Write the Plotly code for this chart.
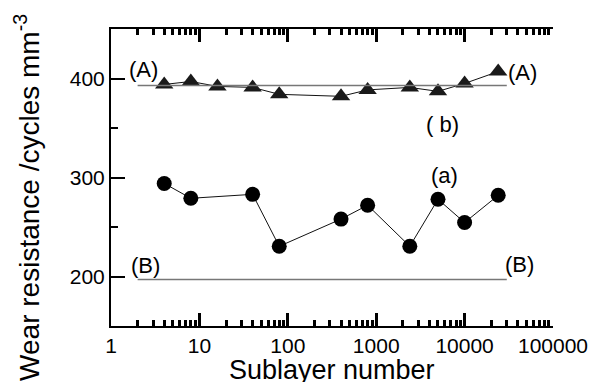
import plotly.graph_objects as go

# ---- data ----
tri_x = [4, 8, 16, 40, 80, 400, 800, 2400, 5000, 10000, 24000]
tri_y = [394, 397, 392, 391, 384, 382, 388.5, 391, 387, 395, 407]
circ_x = [4, 8, 40, 80, 400, 800, 2400, 5000, 10000, 24000]
circ_y = [294, 279, 283, 230.5, 258, 272, 230.5, 278, 254.5, 282]
ref_x = [2, 30000]
ref_A = [393, 393]
ref_B = [197, 197]
x_tickvals = [1, 10, 100, 1000, 10000, 100000]
x_ticktext = ["1", "10", "100", "1000", "10000", "100000"]
y_tickvals = [200, 300, 400]
y_ticktext = ["200", "300", "400"]

# ---- layout geometry ----
W, H = 600, 382
ML, MR, MT, MB = 111, 37, 29, 56
PW, PH = W - ML - MR, H - MT - MB
FONT = "Liberation Sans, Arial, Helvetica, sans-serif"

# minor tick positions on the log axis (2..9 in each decade)
x_minor = [m * 10 ** d for d in range(5) for m in range(2, 10)]


def px(x):
    return (x - ML) / PW


def py(y):
    return (H - MB - y) / PH


fig = go.Figure()
fig.add_trace(go.Scatter(x=ref_x, y=ref_A, mode="lines", xaxis="x2",
                         line=dict(color="#777777", width=1.5), hoverinfo="skip"))
fig.add_trace(go.Scatter(x=ref_x, y=ref_B, mode="lines", xaxis="x2",
                         line=dict(color="#777777", width=1.5), hoverinfo="skip"))
fig.add_trace(go.Scatter(x=tri_x, y=tri_y, mode="lines+markers",
                         line=dict(color="#111111", width=1),
                         marker=dict(symbol="triangle-up", size=16, color="#1a1a1a")))
fig.add_trace(go.Scatter(x=circ_x, y=circ_y, mode="lines+markers",
                         line=dict(color="#111111", width=1),
                         marker=dict(symbol="circle", size=15, color="#000000")))

labels = [
    ("(A)", 144.5, 69.5),
    ("(A)", 531.7, 72.5),
    ("( b)", 450, 125),
    ("(a)", 451.7, 175),
    ("(B)", 146.7, 265),
    ("(B)", 528.3, 264.5),
]
annotations = []
for t, x, y in labels:
    annotations.append(dict(text=t, x=px(x), y=py(y), xref="paper", yref="paper",
                            xanchor="center", yanchor="middle", showarrow=False,
                            font=dict(size=22, color="black", family=FONT)))
annotations.append(dict(text="Wear resistance /cycles mm<sup>-3</sup>", x=px(25), y=py(197),
                        xref="paper", yref="paper", textangle=-90, xanchor="center",
                        yanchor="middle", showarrow=False,
                        font=dict(size=28, color="black", family=FONT)))
annotations.append(dict(text="Sublayer number", x=px(337), y=py(370),
                        xref="paper", yref="paper", xanchor="center",
                        yanchor="middle", showarrow=False,
                        font=dict(size=27, color="black", family=FONT)))

TW = 2
XTW = 2.5
fig.update_layout(
    width=W, height=H,
    margin=dict(l=ML, r=MR, t=MT, b=MB, pad=0),
    paper_bgcolor="white", plot_bgcolor="white",
    showlegend=False,
    font=dict(family=FONT, color="black"),
    annotations=annotations,
    xaxis=dict(type="log", range=[0, 5], tickmode="array", tickvals=x_tickvals,
               ticktext=x_ticktext, ticks="inside", ticklen=13, tickwidth=XTW,
               tickcolor="#000000", showline=True, linecolor="black", linewidth=2,
               mirror="ticks", showgrid=False, zeroline=False,
               tickfont=dict(size=21, color="black", family=FONT),
               minor=dict(ticks="inside", ticklen=6, tickwidth=XTW, tickcolor="#000000",
                          tickmode="array", tickvals=x_minor, showgrid=False)),
    xaxis2=dict(type="log", range=[0, 5], overlaying="x", anchor="y", side="bottom",
                tickmode="array", tickvals=x_minor, ticks="inside", ticklen=6,
                tickwidth=XTW, tickcolor="#000000", mirror="ticks",
                showticklabels=False, showline=False, showgrid=False, zeroline=False),
    yaxis=dict(range=[150, 450], tickvals=y_tickvals, ticktext=y_ticktext,
               ticks="inside", ticklen=14, tickwidth=TW, tickcolor="black",
               showline=True, linecolor="black", linewidth=2, mirror=False,
               showgrid=False, zeroline=False,
               tickfont=dict(size=21, color="black", family=FONT),
               minor=dict(ticks="inside", ticklen=7, tickwidth=TW, tickcolor="black",
                          tickvals=[250, 350], showgrid=False)),
    yaxis2=dict(range=[0, 8], overlaying="y", side="right", anchor="x",
                dtick=2, ticks="inside", ticklen=14, tickwidth=TW, tickcolor="black",
                showticklabels=False, showline=True, linecolor="black", linewidth=2,
                showgrid=False, zeroline=False,
                minor=dict(ticks="inside", ticklen=7, tickwidth=TW, tickcolor="black",
                           dtick=1, showgrid=False)),
)

fig.write_html("out.html")
